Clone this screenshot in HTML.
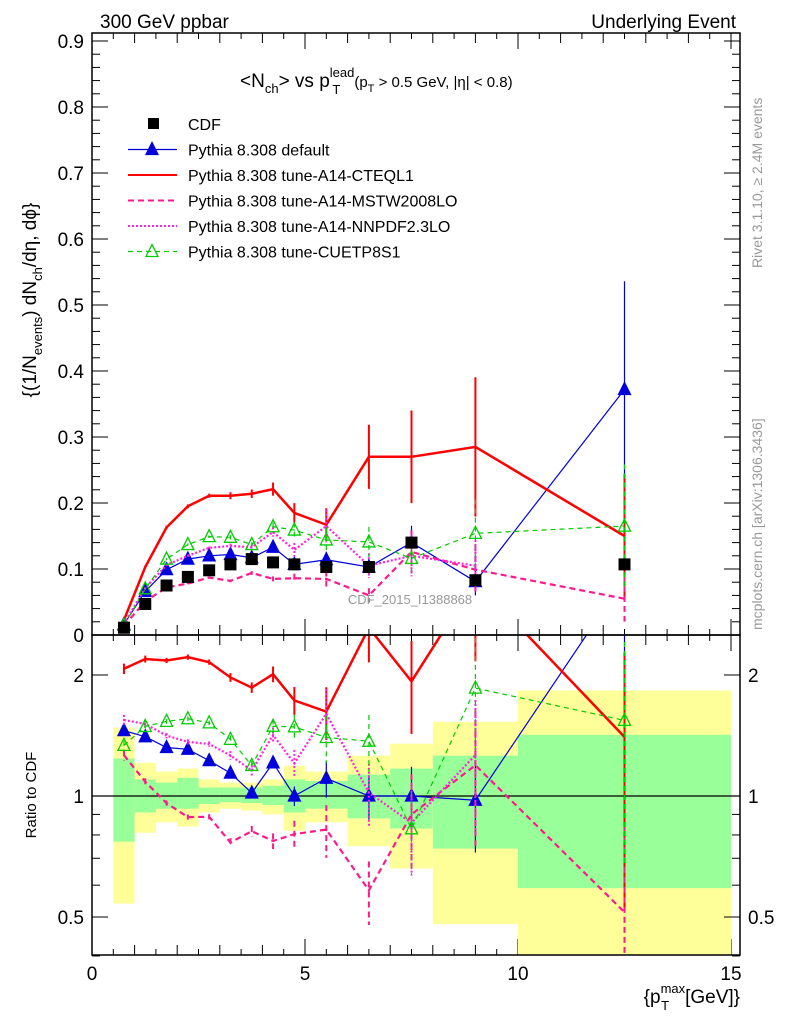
<!DOCTYPE html>
<html><head><meta charset="utf-8"><style>
html,body{margin:0;padding:0;background:#fff;width:786px;height:1024px;overflow:hidden;}
svg{display:block;font-family:"Liberation Sans",sans-serif;}
</style></head><body>
<svg id="chart" width="786" height="1024" viewBox="0 0 786 1024" xmlns="http://www.w3.org/2000/svg">
<defs>
<clipPath id="cm"><rect x="92" y="33" width="648" height="602"/></clipPath>
<clipPath id="cr"><rect x="92" y="635" width="648" height="320"/></clipPath>
</defs>
<text x="100" y="28" font-size="19">300 GeV ppbar</text>
<text x="736" y="28" font-size="19" text-anchor="end">Underlying Event</text>
<text x="240" y="87" font-size="19">&lt;N<tspan font-size="13" dy="6">ch</tspan><tspan dy="-6">&gt; vs p</tspan><tspan font-size="13" dy="-10">lead</tspan><tspan font-size="13" dx="-22" dy="17">T</tspan><tspan font-size="15" dx="14" dy="-7">(p</tspan><tspan font-size="11" dy="5">T</tspan><tspan font-size="15" dy="-5"> &gt; 0.5 GeV, |η| &lt; 0.8)</tspan></text>
<g id="legend" font-size="16"></g>
<g id="main"></g>
<g id="ratio"></g>
<text x="410" y="604" font-size="13" fill="#999" text-anchor="middle">CDF_2015_I1388868</text>
<text transform="translate(762,268) rotate(-90)" font-size="14" fill="#999">Rivet 3.1.10, ≥ 2.4M events</text>
<text transform="translate(762,630) rotate(-90)" font-size="14" fill="#999">mcplots.cern.ch [arXiv:1306.3436]</text>
<text transform="translate(36,300) rotate(-90)" font-size="19" text-anchor="middle">{(1/N<tspan font-size="13" dy="6">events</tspan><tspan dy="-6">) dN</tspan><tspan font-size="13" dy="6">ch</tspan><tspan dy="-6">/dη, dϕ}</tspan></text>
<text transform="translate(36,795) rotate(-90)" font-size="15" text-anchor="middle">Ratio to CDF</text>
<text x="740" y="1003" font-size="19" text-anchor="end">{p<tspan font-size="13" dy="-10">max</tspan><tspan font-size="13" dx="-24" dy="17">T</tspan><tspan dx="16" dy="-7">[GeV]}</tspan></text>
</svg>
<script>
const xs=[0.75,1.25,1.75,2.25,2.75,3.25,3.75,4.25,4.75,5.5,6.5,7.5,9,12.5];
const cdf=[0.011,0.047,0.075,0.088,0.098,0.107,0.115,0.110,0.107,0.103,0.103,0.140,0.083,0.107];
const cdfErr=[0.001,0.002,0.002,0.002,0.002,0.002,0.002,0.002,0.002,0.003,0.004,0.005,0.006,0.008];
const pyDefault=[0.016,0.066,0.099,0.115,0.120,0.122,0.117,0.133,0.107,0.114,0.103,0.140,0.081,0.372];
const cteq=[0.0228,0.103,0.163,0.195,0.211,0.211,0.214,0.221,0.185,0.167,0.270,0.270,0.285,0.150];
const mstw=[0.0139,0.051,0.072,0.078,0.087,0.082,0.094,0.085,0.086,0.085,0.060,0.126,0.099,0.055];
const nnpdf=[0.017,0.071,0.106,0.120,0.132,0.135,0.133,0.156,0.129,0.165,0.105,0.120,0.105];
const cuet=[0.0147,0.070,0.115,0.137,0.149,0.148,0.137,0.164,0.159,0.144,0.141,0.116,0.154,0.165];
const relErr=[0.03,0.02,0.015,0.015,0.015,0.025,0.03,0.045,0.08,0.15,0.18,0.26,0.37,0.63];
const binEdges=[0.5,1,1.5,2,2.5,3,3.5,4,4.5,5,6,7,8,10,15];
const greenLo=[0.77,0.91,0.93,0.93,0.955,0.965,0.96,0.95,0.91,0.93,0.88,0.83,0.74,0.59];
const greenHi=[1.24,1.10,1.08,1.11,1.05,1.05,1.05,1.06,1.10,1.09,1.13,1.17,1.26,1.42];
const yelLo=[0.54,0.81,0.86,0.84,0.91,0.93,0.92,0.90,0.82,0.86,0.75,0.66,0.48,0.30];
const yelHi=[1.48,1.21,1.15,1.17,1.10,1.08,1.08,1.10,1.19,1.15,1.26,1.35,1.53,1.83];
const yTicks=[0,0.1,0.2,0.3,0.4,0.5,0.6,0.7,0.8,0.9];
const xTicks=[0,5,10,15];
const rTicks=[0.5,1,2];

const NS="http://www.w3.org/2000/svg";
const X=v=>92+v*42.6;
const Y=v=>635-v*660;
const R=v=>796-Math.log2(v)*121;
function mk(p,t,a){const e=document.createElementNS(NS,t);for(const k in a)e.setAttribute(k,a[k]);p.appendChild(e);return e;}
const main=document.getElementById('main'),ratio=document.getElementById('ratio'),leg=document.getElementById('legend');

const bg=mk(ratio,'g',{'clip-path':'url(#cr)'});
for(let i=0;i<greenLo.length;i++){
  const x0=X(binEdges[i]),x1=X(binEdges[i+1]);
  const y=mk(bg,'rect',{x:x0,y:R(yelHi[i]),width:x1-x0,height:R(yelLo[i])-R(yelHi[i]),fill:'#ffff99'});
  
  
  const g=mk(bg,'rect',{x:x0,y:R(greenHi[i]),width:x1-x0,height:R(greenLo[i])-R(greenHi[i]),fill:'#99ff99'});
  
  
}
mk(ratio,'line',{x1:92,x2:740,y1:R(1),y2:R(1),stroke:'#000','stroke-width':1.2});

const series=[
 {d:pyDefault,name:'default',c:'#0000dd',w:1.2,dash:'none',m:'tri',es:0.7},
 {d:cteq,name:'cteql1',c:'#ff0000',w:2.5,dash:'none',m:'',es:1},
 {d:mstw,name:'mstw2008lo',c:'#ff1a8c',w:2.2,dash:'6,4',m:'',es:1},
 {d:nnpdf,name:'nnpdf23lo',c:'#ff22dd',w:2.2,dash:'2,2',m:'',es:1},
 {d:cuet,name:'cuetp8s1',c:'#00cc00',w:1.2,dash:'5,4',m:'otri',es:0.9}
];
function tri(g,x,y,s,open){return mk(g,'polygon',{points:`${x},${y-7} ${x-6},${y+5} ${x+6},${y+5}`,fill:open?'#fff':s.c,'fill-opacity':open?0:1,stroke:s.c,'stroke-width':1.3});}
function drawPanel(panel,clip,fy,isRatio){
  const g=mk(panel,'g',{'clip-path':clip});
  series.forEach(s=>{
    const vals=s.d.map((v,i)=>isRatio?v/cdf[i]:v);
    const sg=mk(g,'g',{});
    
    
    vals.forEach((v,i)=>{
      const e=v*relErr[i]*s.es;
      const x=X(xs[i]);
      const eb=mk(sg,'line',{x1:x,x2:x,y1:fy(v+e),y2:fy(Math.max(v-e,1e-3)),stroke:s.c,'stroke-width':s.w>2?2:1.2,'stroke-dasharray':s.dash});
      
      
    });
    const pl=mk(sg,'polyline',{points:vals.map((v,i)=>X(xs[i])+','+fy(v)).join(' '),fill:'none',stroke:s.c,'stroke-width':s.w,'stroke-dasharray':s.dash});
    
    
    if(s.m) vals.forEach((v,i)=>{const t=tri(sg,X(xs[i]),fy(v),s,s.m==='otri');});
  });
}
drawPanel(main,'url(#cm)',Y,false);
const cg=mk(main,'g',{'clip-path':'url(#cm)'});
cdf.forEach((v,i)=>{
  const x=X(xs[i]);
  const r=mk(cg,'rect',{x:x-6,y:Y(v)-6,width:12,height:12,fill:'#000'});
  
  
  mk(cg,'line',{x1:x,x2:x,y1:Y(v+cdfErr[i]),y2:Y(v-cdfErr[i]),stroke:'#000'});
});
drawPanel(ratio,'url(#cr)',R,true);

mk(main,'rect',{x:92,y:33,width:648,height:602,fill:'none',stroke:'#000','stroke-width':1.5});
mk(ratio,'rect',{x:92,y:635,width:648,height:320,fill:'none',stroke:'#000','stroke-width':1.5});
for(let k=0;k<=45;k++){const v=k*0.02;const y=Y(v);const big=k%5===0;
  mk(main,'line',{x1:92,x2:92+(big?16:8),y1:y,y2:y,stroke:'#000'});
  mk(main,'line',{x1:740,x2:740-(big?16:8),y1:y,y2:y,stroke:'#000'});}
yTicks.forEach(v=>{const t=mk(main,'text',{x:84,y:Y(v)+7,'font-size':19,'text-anchor':'end'});t.textContent=v===0?'0':v.toFixed(1);
  
  });
for(let k=0;k<=30;k++){const v=k*0.5;const x=X(v);const big=k%10===0;const len=big?16:(k%2===0?10:6);
  mk(main,'line',{x1:x,x2:x,y1:635,y2:635-len,stroke:'#000'});
  mk(main,'line',{x1:x,x2:x,y1:635,y2:635+len,stroke:'#000'});
  mk(main,'line',{x1:x,x2:x,y1:955,y2:955-len,stroke:'#000'});
  mk(main,'line',{x1:x,x2:x,y1:33,y2:33+len,stroke:'#000'});}
xTicks.forEach(v=>{const t=mk(ratio,'text',{x:X(v),y:980,'font-size':19,'text-anchor':'middle'});t.textContent=v;
  
  });
[0.4,0.5,0.6,0.7,0.8,0.9,1,2].forEach(v=>{const y=R(v);const big=rTicks.includes(v);
  mk(ratio,'line',{x1:92,x2:92+(big?16:8),y1:y,y2:y,stroke:'#000'});
  mk(ratio,'line',{x1:740,x2:740-(big?16:8),y1:y,y2:y,stroke:'#000'});});
rTicks.forEach(v=>{[[84,'end'],[748,'start']].forEach(([x,a])=>{const t=mk(ratio,'text',{x:x,y:R(v)+7,'font-size':19,'text-anchor':a});t.textContent=v;
  
  });});

const labels=['CDF','Pythia 8.308 default','Pythia 8.308 tune-A14-CTEQL1','Pythia 8.308 tune-A14-MSTW2008LO','Pythia 8.308 tune-A14-NNPDF2.3LO','Pythia 8.308 tune-CUETP8S1'];
labels.forEach((l,i)=>{
  const y=124+i*25.5;
  const eg=mk(leg,'g',{});
  
  
  if(i===0) mk(eg,'rect',{x:148,y:y-6,width:11,height:11,fill:'#000'});
  else{const s=series[i-1];
    mk(eg,'line',{x1:128,x2:177,y1:y,y2:y,stroke:s.c,'stroke-width':s.w>2?2:1.2,'stroke-dasharray':s.dash});
    if(s.m) tri(eg,152,y,s,s.m==='otri');}
  const t=mk(eg,'text',{x:188,y:y+6,'font-size':16});t.textContent=l;
});
</script>
</body></html>
